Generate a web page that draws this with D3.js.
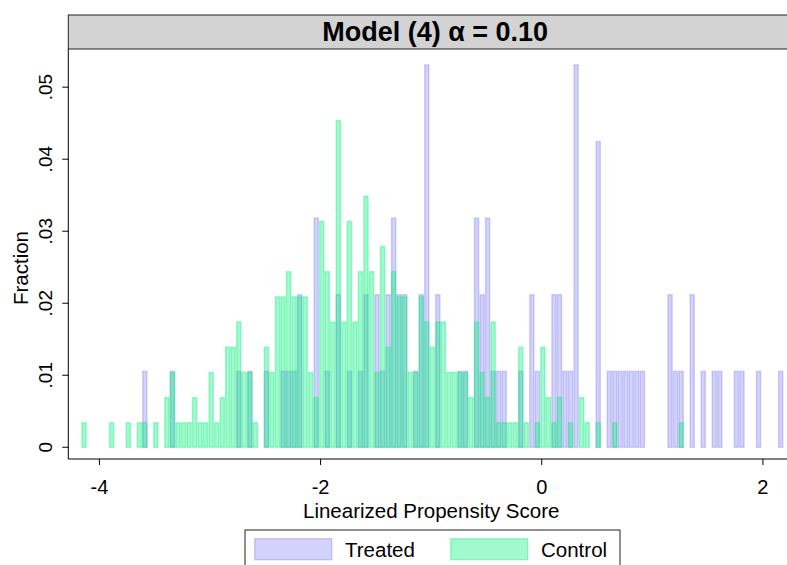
<!DOCTYPE html>
<html>
<head>
<meta charset="utf-8">
<script src="https://cdn.jsdelivr.net/npm/d3@7"></script>
<style>
  body { margin: 0; background: #fff; }
  text { font-family: "Liberation Sans", Arial, sans-serif; }
</style>
</head>
<body>
<div id="canvas"></div>
<script>
var w = 787;
var h = 565;

// HISTOGRAM BINS (LINEARIZED PROPENSITY SCORE)
var binStart = -4.16;
var binWidth = 0.05;

// COUNTS PER BIN
var treatedN = 94;
var treatedCounts = [
  0,0,0,0,0,0,0,0,0,0,
  0,1,0,0,0,0,1,0,0,0,
  0,0,0,0,0,0,0,0,1,0,
  1,0,0,1,0,0,1,1,1,2,
  0,0,3,0,1,0,2,0,1,0,
  1,2,0,2,1,2,3,2,2,0,
  1,2,5,0,2,0,0,0,1,1,
  0,3,2,3,1,1,1,0,0,1,
  0,2,1,0,0,2,2,1,1,5,
  0,0,0,4,0,1,1,1,1,1,
  1,1,0,0,0,0,2,1,1,0,
  2,0,1,0,1,1,0,0,1,1,
  0,0,1,0,0,0,1
];

var controlN = 286;
var controlCounts = [
  1,0,0,0,0,1,0,0,1,0,
  1,1,0,1,0,2,3,1,1,1,
  2,1,1,3,1,2,4,4,5,3,
  3,1,0,4,3,6,6,7,6,6,
  6,3,2,9,7,5,13,5,9,5,
  7,10,7,3,8,4,7,6,6,3,
  3,6,5,4,5,5,3,3,3,3,
  2,5,3,2,5,1,1,1,1,4,
  1,0,1,4,2,1,2,0,1,0,
  2,1,0,1,0,0,1,0,0,0,
  0,0,0,0,0,0,0,0,1,0,
  0,0,0,0,0,0,0,0,0,0,
  0,0,0,0,0,0,0
];

var xTicks = [-4, -2, 0, 2];
var yTicks = [0, 0.01, 0.02, 0.03, 0.04, 0.05];
var titleText = "Model (4) \u03b1 = 0.10";
var seriesNames = ["Treated", "Control"];

// PLOT AREA
var plotLeft = 68.3, plotRight = 802, plotTop = 49, plotBottom = 459;

var svg = d3.select("#canvas")
    .append("svg")
    .attr("width", w)
    .attr("height", h);

var x = d3.scaleLinear().domain([-4.277, 2.358]).range([plotLeft, plotRight]);
var y = d3.scaleLinear().domain([-0.00163, 0.0553]).range([plotBottom, plotTop]);

// COLOURS
var treatedColor = "rgb(105,105,240)";
var controlColor = "rgb(10,240,125)";
var treatedOp = 0.3;
var controlOp = 0.38;

function toBins(counts, n) {
    var out = [];
    counts.forEach(function(c, i) {
        if (c > 0) out.push({ x0: binStart + i * binWidth, x1: binStart + (i + 1) * binWidth, f: c / n });
    });
    return out;
}

svg.append("clipPath").attr("id", "clip")
    .append("rect").attr("x", plotLeft).attr("y", plotTop)
    .attr("width", w - plotLeft).attr("height", plotBottom - plotTop);

var barsGroup = svg.append("g").attr("clip-path", "url(#clip)");

function drawBars(bins, color, op) {
    barsGroup.append("g").selectAll("rect")
        .data(bins)
        .join("rect")
        .attr("x", d => x(d.x0) + 0.7)
        .attr("width", d => x(d.x1) - x(d.x0) - 1.4)
        .attr("y", d => y(d.f) + 0.7)
        .attr("height", d => y(0) - y(d.f) - 0.7)
        .attr("fill", color)
        .attr("fill-opacity", op)
        .attr("stroke", color)
        .attr("stroke-opacity", op)
        .attr("stroke-width", 1.4);
}

drawBars(toBins(treatedCounts, treatedN), treatedColor, treatedOp);
drawBars(toBins(controlCounts, controlN), controlColor, controlOp);

// Y AXIS
var yAxis = svg.append("g")
    .attr("transform", "translate(" + plotLeft + ",0)")
    .call(d3.axisLeft(y).tickValues(yTicks).tickSize(6)
        .tickFormat(d => d === 0 ? "0" : d3.format(".2f")(d).replace(/^0/, "")));
yAxis.select(".domain").attr("d", "M0," + plotTop + "V" + plotBottom);
yAxis.selectAll("text")
    .attr("font-size", 19)
    .attr("font-family", "Liberation Sans, Arial, sans-serif")
    .attr("text-anchor", "middle")
    .attr("x", 0).attr("dy", 0)
    .attr("transform", d => "translate(-16," + y(d) + ") rotate(-90)");
yAxis.selectAll(".tick").attr("transform", null);
yAxis.selectAll(".tick line").attr("y1", d => y(d)).attr("y2", d => y(d));

// X AXIS
var xAxis = svg.append("g")
    .attr("transform", "translate(0," + plotBottom + ")")
    .call(d3.axisBottom(x).tickValues(xTicks).tickSize(6).tickFormat(d3.format("d")));
xAxis.select(".domain").attr("d", "M" + plotLeft + ",0H" + w);
xAxis.selectAll("text")
    .attr("font-size", 20)
    .attr("font-family", "Liberation Sans, Arial, sans-serif")
    .attr("y", 35).attr("dy", 0)
    .text(d => d < 0 ? "-" + Math.abs(d) : d);

// AXIS TITLES
svg.append("text")
    .attr("x", x(-0.995)).attr("y", 518)
    .attr("text-anchor", "middle")
    .attr("font-size", 20.5)
    .text("Linearized Propensity Score");

svg.append("text")
    .attr("transform", "translate(28,268) rotate(-90)")
    .attr("text-anchor", "middle")
    .attr("font-size", 20.5)
    .text("Fraction");

// TITLE BAR
svg.append("rect")
    .attr("x", plotLeft).attr("y", 15)
    .attr("width", 760).attr("height", plotTop - 15)
    .attr("fill", "#d3d3d3")
    .attr("stroke", "#222")
    .attr("stroke-width", 1);

svg.append("text")
    .attr("x", (plotLeft + plotRight) / 2).attr("y", 41)
    .attr("text-anchor", "middle")
    .attr("font-size", 27)
    .attr("font-weight", "bold")
    .text(titleText);

// LEGEND
var legend = svg.append("g");
legend.append("rect")
    .attr("x", 245).attr("y", 530)
    .attr("width", 375).attr("height", 50)
    .attr("fill", "#fff").attr("stroke", "#222");

var legendX = [254, 450];
var legendColors = [[treatedColor, treatedOp], [controlColor, controlOp]];
legendColors.forEach(function(c, i) {
    legend.append("rect")
        .attr("x", legendX[i] + 0.7).attr("y", 538.7)
        .attr("width", 77).attr("height", 21)
        .attr("fill", c[0]).attr("fill-opacity", c[1])
        .attr("stroke", c[0]).attr("stroke-opacity", c[1])
        .attr("stroke-width", 1.4);
    legend.append("text")
        .attr("x", legendX[i] + 91).attr("y", 557)
        .attr("font-size", 20.5)
        .text(seriesNames[i]);
});
</script>
</body>
</html>
